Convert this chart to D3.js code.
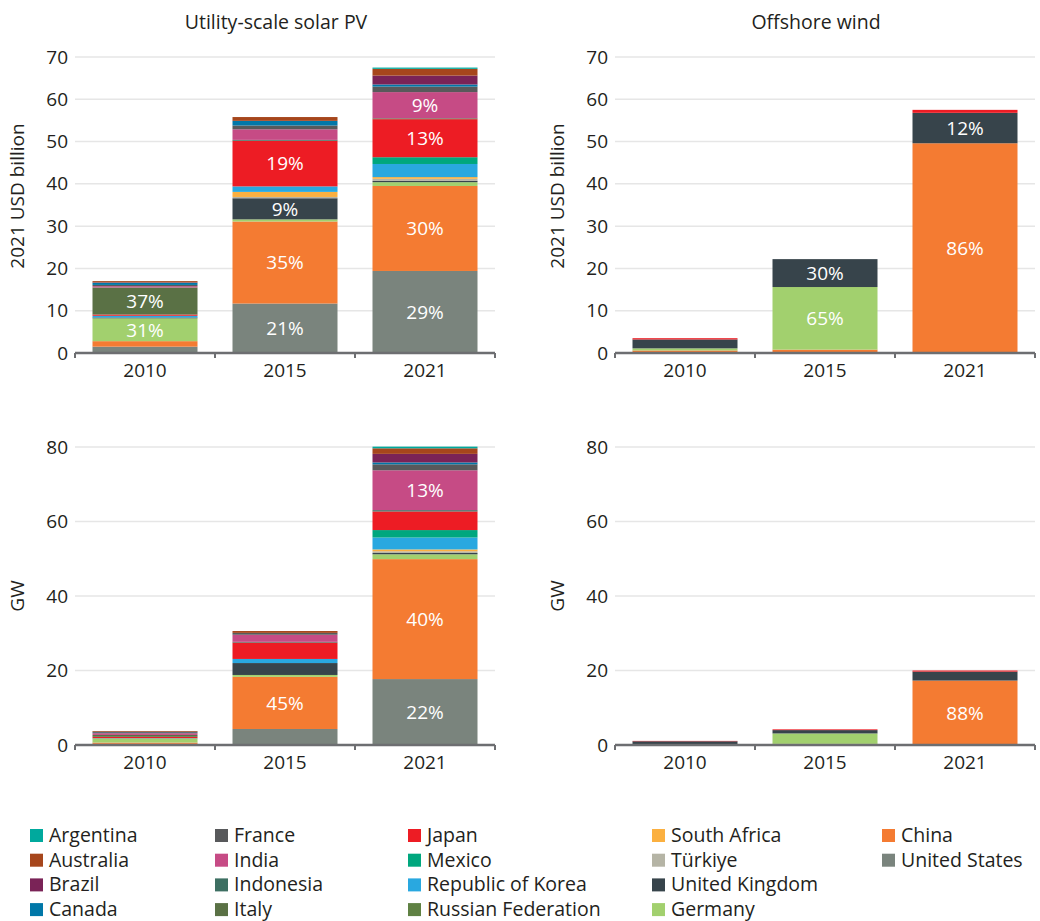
<!DOCTYPE html>
<html>
<head>
<meta charset="utf-8">
<script src="https://cdn.jsdelivr.net/npm/d3@7"></script>
<style>
  body { margin: 0; background: #fff; }
  svg { font-family: "Open Sans", sans-serif; }
  .grid line { stroke: #e6e6e6; stroke-width: 1.5; }
  .tick text { fill: #231f20; }
</style>
</head>
<body>
<svg width="1040" height="921"></svg>
<script>
// categories on the x axis
const years = ["2010", "2015", "2021"];

// stack order, bottom to top
const countries = [
  "United States", "China", "Germany", "United Kingdom", "Türkiye", "South Africa",
  "Russian Federation", "Republic of Korea", "Mexico", "Japan", "Italy", "Indonesia",
  "India", "France", "Canada", "Brazil", "Australia", "Argentina"
];
const colors = [
  "#7a847d", "#f47b32", "#a2d06e", "#37444b", "#b5b4a5", "#fbb040",
  "#5f8143", "#29a8e0", "#00a77e", "#ed1c24", "#5a7145", "#3d6f62",
  "#c64b85", "#58595b", "#0077a8", "#7a2357", "#a6461c", "#00a99d"
];

// legend, column by column
const legendOrder = [
  "Argentina", "Australia", "Brazil", "Canada",
  "France", "India", "Indonesia", "Italy",
  "Japan", "Mexico", "Republic of Korea", "Russian Federation",
  "South Africa", "Türkiye", "United Kingdom", "Germany",
  "China", "United States"
];

// values per country (same order as countries), for 2010, 2015, 2021
const solarUsd = [
  [1.5, 11.7, 19.4], [1.3, 19.4, 20.1], [5.4, 0.5, 0.9], [0.2, 5.0, 0.3], [0, 0.3, 0.5], [0, 1.2, 0.4],
  [0, 0, 0], [0.4, 1.3, 3.1], [0, 0, 1.6], [0.3, 10.8, 9.0], [6.4, 0, 0.2], [0, 0.2, 0],
  [0.3, 2.5, 6.2], [0.3, 0.9, 1.3], [0.5, 1.1, 0.5], [0.1, 0, 2.1], [0.3, 0.9, 1.6], [0, 0, 0.3]
];
const windUsd = [
  [0, 0, 0], [0.6, 0.8, 49.6], [0.5, 14.8, 0], [2.1, 6.6, 7.2], [0, 0, 0], [0, 0, 0],
  [0, 0, 0], [0, 0, 0], [0, 0, 0], [0.3, 0, 0.7], [0, 0, 0], [0, 0, 0],
  [0, 0, 0], [0, 0, 0], [0, 0, 0], [0, 0, 0], [0, 0, 0], [0, 0, 0]
];
const solarGw = [
  [0.3, 4.3, 17.7], [0.35, 14.0, 32.2], [1.1, 0.5, 1.3], [0.05, 3.2, 0.35], [0, 0, 0.45], [0, 0, 0.5],
  [0, 0, 0], [0.05, 1.1, 3.2], [0, 0, 2.0], [0.35, 4.4, 5.0], [0.5, 0, 0], [0, 0.2, 0.35],
  [0.45, 1.9, 10.7], [0.3, 0.5, 1.6], [0.1, 0, 0.5], [0, 0, 2.3], [0.2, 0.5, 1.5], [0, 0, 0.45]
];
const windGw = [
  [0, 0, 0], [0.1, 0.3, 17.3], [0.1, 2.8, 0], [0.8, 0.9, 2.4], [0, 0, 0], [0, 0, 0],
  [0, 0, 0], [0, 0, 0], [0, 0, 0], [0.1, 0.2, 0.3], [0, 0, 0], [0, 0, 0],
  [0, 0, 0], [0, 0, 0], [0, 0, 0], [0, 0, 0], [0, 0, 0], [0, 0, 0]
];

// share labels: [year, country, text]
const solarUsdLabels = [
  ["2010", "Germany", "31%"], ["2010", "Italy", "37%"],
  ["2015", "United States", "21%"], ["2015", "China", "35%"], ["2015", "United Kingdom", "9%"], ["2015", "Japan", "19%"],
  ["2021", "United States", "29%"], ["2021", "China", "30%"], ["2021", "Japan", "13%"], ["2021", "India", "9%"]
];
const windUsdLabels = [
  ["2015", "Germany", "65%"], ["2015", "United Kingdom", "30%"],
  ["2021", "China", "86%"], ["2021", "United Kingdom", "12%"]
];
const solarGwLabels = [
  ["2015", "China", "45%"],
  ["2021", "United States", "22%"], ["2021", "China", "40%"], ["2021", "India", "13%"]
];
const windGwLabels = [["2021", "China", "88%"]];

const usdTicks = [0, 10, 20, 30, 40, 50, 60, 70];
const gwTicks = [0, 20, 40, 60, 80];

let svg = d3.select("svg");
let color = d3.scaleOrdinal().domain(countries).range(colors);

//build one stacked bar panel
function drawPanel(values, labels, opts) {
  let rows = years.map(function(y, i) {
    let r = { year: y };
    countries.forEach(function(c, k) { r[c] = values[k][i]; });
    return r;
  });
  let series = d3.stack().keys(countries)(rows);

  let x = d3.scaleBand().domain(years).range([opts.x0, opts.x1])
    .paddingInner(0.25).paddingOuter(0.125);
  let y = d3.scaleLinear().domain([0, d3.max(opts.ticks)]).range([opts.y0, opts.y1]);

  let g = svg.append("g");

  //gridlines
  g.append("g")
    .attr("class", "grid")
    .selectAll("line")
    .data(opts.ticks.filter(function(t) { return t > 0; }))
    .join("line")
    .attr("x1", opts.x0).attr("x2", opts.x1)
    .attr("y1", function(d) { return y(d); })
    .attr("y2", function(d) { return y(d); });

  //y axis labels
  let ya = g.append("g")
    .attr("transform", "translate(" + opts.x0 + ",0)")
    .call(d3.axisLeft(y).tickValues(opts.ticks).tickSize(0).tickPadding(7));
  ya.select(".domain").remove();
  ya.selectAll("text").attr("font-size", 19).attr("font-family", "Open Sans");

  //bars
  g.selectAll(".layer")
    .data(series)
    .join("g")
    .attr("class", "layer")
    .attr("fill", function(d) { return color(d.key); })
    .selectAll("rect")
    .data(function(d) { return d; })
    .join("rect")
    .attr("x", function(d) { return x(d.data.year); })
    .attr("width", x.bandwidth())
    .attr("y", function(d) { return y(d[1]); })
    .attr("height", function(d) { return y(d[0]) - y(d[1]); });

  //share labels
  g.selectAll(".share")
    .data(labels)
    .join("text")
    .attr("class", "share")
    .attr("x", function(d) { return x(d[0]) + x.bandwidth() / 2; })
    .attr("y", function(d) {
      let s = series.find(function(s) { return s.key == d[1]; });
      let p = s[years.indexOf(d[0])];
      return (y(p[0]) + y(p[1])) / 2;
    })
    .attr("dy", "0.36em")
    .attr("text-anchor", "middle")
    .attr("fill", "#fff")
    .attr("font-size", 19)
    .text(function(d) { return d[2]; });

  //x axis with ticks between categories
  let xa = g.append("g").attr("transform", "translate(0," + opts.y0 + ")");
  xa.append("line")
    .attr("x1", opts.x0).attr("x2", opts.x1)
    .attr("stroke", "#6d6e71").attr("stroke-width", 2.5);
  xa.selectAll(".sep")
    .data(d3.range(years.length + 1))
    .join("line")
    .attr("class", "sep")
    .attr("x1", function(i) { return opts.x0 + i * x.step(); })
    .attr("x2", function(i) { return opts.x0 + i * x.step(); })
    .attr("y1", 0).attr("y2", 5)
    .attr("stroke", "#6d6e71").attr("stroke-width", 2);
  xa.selectAll(".yr")
    .data(years)
    .join("text")
    .attr("x", function(d) { return x(d) + x.bandwidth() / 2; })
    .attr("y", 24)
    .attr("text-anchor", "middle")
    .attr("font-size", 19)
    .attr("fill", "#231f20")
    .text(function(d) { return d; });

  //axis title
  g.append("text")
    .attr("transform", "translate(" + opts.titleX + "," + opts.titleY + ") rotate(-90)")
    .attr("text-anchor", "middle")
    .attr("font-size", 19)
    .attr("fill", "#231f20")
    .text(opts.yTitle);

  if (opts.title) {
    g.append("text")
      .attr("x", (opts.x0 + opts.x1) / 2 - 9)
      .attr("y", 29)
      .attr("text-anchor", "middle")
      .attr("font-size", 19.5)
      .attr("fill", "#231f20")
      .text(opts.title);
  }
}

drawPanel(solarUsd, solarUsdLabels, {
  x0: 75, x1: 495, y0: 353, y1: 57, ticks: usdTicks,
  yTitle: "2021 USD billion", titleX: 24, titleY: 196, title: "Utility-scale solar PV"
});
drawPanel(windUsd, windUsdLabels, {
  x0: 615, x1: 1035, y0: 353, y1: 57, ticks: usdTicks,
  yTitle: "2021 USD billion", titleX: 564, titleY: 196, title: "Offshore wind"
});
drawPanel(solarGw, solarGwLabels, {
  x0: 75, x1: 495, y0: 745, y1: 447, ticks: gwTicks,
  yTitle: "GW", titleX: 24, titleY: 596
});
drawPanel(windGw, windGwLabels, {
  x0: 615, x1: 1035, y0: 745, y1: 447, ticks: gwTicks,
  yTitle: "GW", titleX: 564, titleY: 596
});

//legend
let legendX = [30, 215, 408, 652, 882];
let legend = svg.append("g")
  .selectAll("g")
  .data(legendOrder)
  .join("g")
  .attr("transform", function(d, i) {
    return "translate(" + legendX[Math.floor(i / 4)] + "," + (829 + (i % 4) * 24.7) + ")";
  });
legend.append("rect")
  .attr("width", 13).attr("height", 13)
  .attr("fill", function(d) { return color(d); });
legend.append("text")
  .attr("x", 19)
  .attr("y", 13)
  .attr("font-size", 19.5)
  .attr("fill", "#231f20")
  .text(function(d) { return d; });
</script>
</body>
</html>
